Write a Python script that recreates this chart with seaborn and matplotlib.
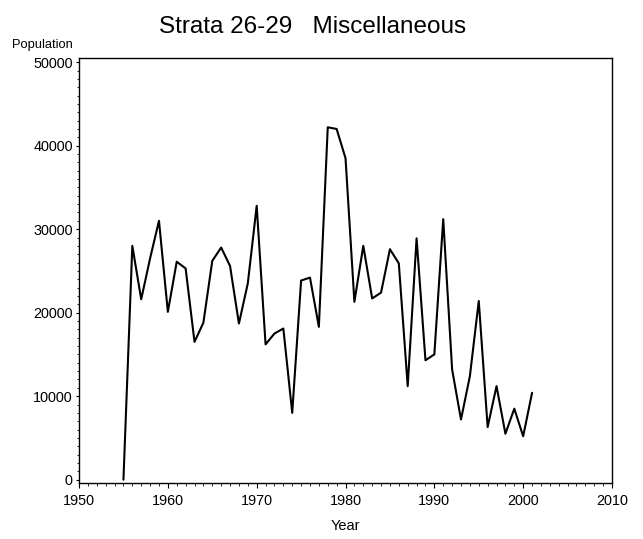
import pandas as pd
import matplotlib
matplotlib.use("Agg")
import matplotlib.pyplot as plt
from matplotlib.ticker import MultipleLocator
import seaborn as sns

# data
years = list(range(1955, 2002))
population = [0, 28000, 21600, 26500, 31000, 20100, 26100, 25300, 16500, 18800,
              26200, 27800, 25600, 18700, 23500, 32800, 16200, 17500, 18100, 8000,
              23850, 24200, 18300, 42200, 42000, 38500, 21300, 28000, 21700, 22400,
              27600, 25900, 11200, 28900, 14300, 15000, 31200, 13200, 7200, 12400,
              21400, 6300, 11200, 5500, 8500, 5200, 10400]

df = pd.DataFrame({"Year": years, "Population": population})

sns.set_style("ticks")
plt.rcParams["font.family"] = ["Liberation Sans", "DejaVu Sans"]
plt.rcParams["text.color"] = "black"
plt.rcParams["axes.labelcolor"] = "black"

fig = plt.figure(figsize=(6.43, 5.39), dpi=100)
ax = fig.add_axes([0.1229, 0.1039, 0.8289, 0.7885])

sns.lineplot(data=df, x="Year", y="Population", color="black", linewidth=1.5, ax=ax)

ax.set_xlim(1950, 2010)
ax.set_ylim(-400, 50500)
ax.xaxis.set_major_locator(MultipleLocator(10))
ax.xaxis.set_minor_locator(MultipleLocator(1))
ax.yaxis.set_major_locator(MultipleLocator(10000))
ax.yaxis.set_minor_locator(MultipleLocator(1000))

for s in ax.spines.values():
    s.set_visible(True)
    s.set_color("black")
    s.set_linewidth(1.0)

ax.tick_params(which="major", direction="out", length=3.6, width=0.8,
               labelsize=10.4, pad=4.5, colors="black")
ax.tick_params(which="minor", direction="out", length=1.8, width=0.6, colors="black")
ax.tick_params(axis="y", which="major", length=2.5, pad=2)

ax.set_xlabel("Year", fontsize=10.5, labelpad=8, color="black")
ax.set_ylabel("")

fig.text(12 / 643, 1 - 45 / 539, "Population", fontsize=9.3, ha="left", va="center",
         color="black")
fig.text(313 / 643, 1 - 27 / 539, "Strata 26-29   Miscellaneous", fontsize=17.5,
         ha="center", va="center", color="black")

plt.savefig("out.png", dpi=100)
